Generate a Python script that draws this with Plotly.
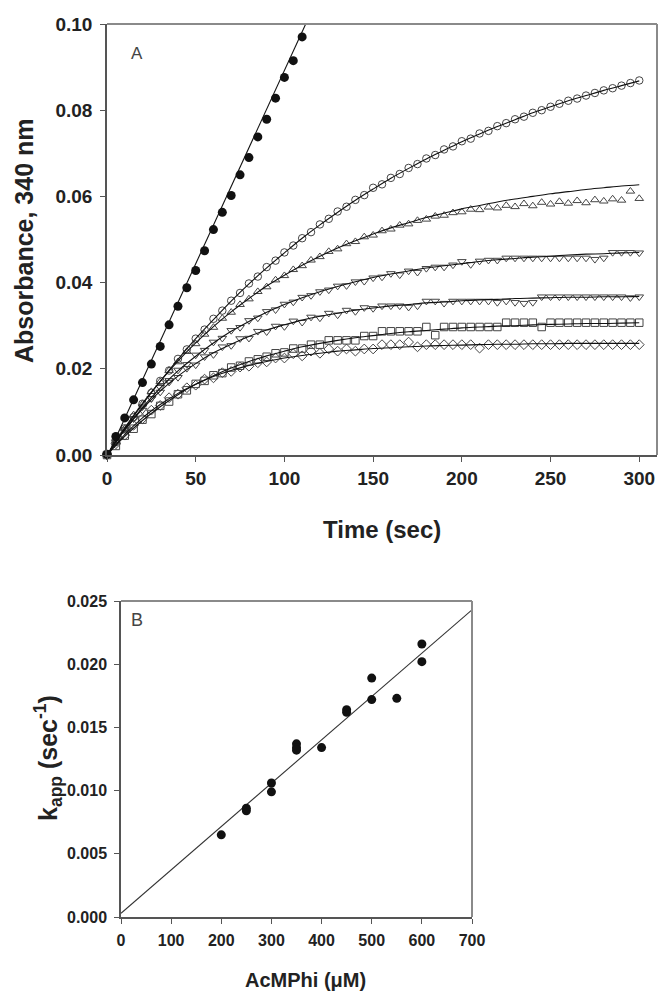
import plotly.graph_objects as go

# ---------------- Panel A data ----------------
time_s = [0, 5, 10, 15, 20, 25, 30, 35, 40, 45, 50, 55, 60, 65, 70, 75, 80, 85, 90, 95,
          100, 105, 110, 115, 120, 125, 130, 135, 140, 145, 150, 155, 160, 165, 170, 175,
          180, 185, 190, 195, 200, 205, 210, 215, 220, 225, 230, 235, 240, 245, 250, 255,
          260, 265, 270, 275, 280, 285, 290, 295, 300]
fit_time = [0, 10, 20, 30, 40, 50, 60, 70, 80, 90, 100, 110, 120, 130, 140, 150, 160, 170,
            180, 190, 200, 210, 220, 230, 240, 250, 260, 270, 280, 290, 300]

circles = [0.0000, 0.0030, 0.0062, 0.0088, 0.0119, 0.0144, 0.0172, 0.0196, 0.0223, 0.0245,
           0.0270, 0.0291, 0.0316, 0.0335, 0.0358, 0.0376, 0.0398, 0.0414, 0.0436, 0.0451,
           0.0470, 0.0486, 0.0503, 0.0517, 0.0535, 0.0548, 0.0565, 0.0576, 0.0592, 0.0603,
           0.0620, 0.0628, 0.0643, 0.0652, 0.0666, 0.0675, 0.0688, 0.0696, 0.0709, 0.0716,
           0.0728, 0.0734, 0.0746, 0.0752, 0.0763, 0.0770, 0.0779, 0.0785, 0.0794, 0.0800,
           0.0808, 0.0815, 0.0822, 0.0827, 0.0834, 0.0840, 0.0846, 0.0851, 0.0857, 0.0863,
           0.0869]
circles_fit = [0.0000, 0.0061, 0.0118, 0.0171, 0.0222, 0.0270, 0.0314, 0.0357, 0.0397, 0.0434,
               0.0469, 0.0503, 0.0534, 0.0563, 0.0591, 0.0617, 0.0642, 0.0665, 0.0687, 0.0707,
               0.0727, 0.0745, 0.0762, 0.0778, 0.0794, 0.0808, 0.0822, 0.0834, 0.0846, 0.0857,
               0.0868]

tri_up = [0.0000, 0.0033, 0.0061, 0.0093, 0.0118, 0.0147, 0.0170, 0.0196, 0.0216, 0.0240,
          0.0258, 0.0280, 0.0296, 0.0317, 0.0331, 0.0349, 0.0362, 0.0379, 0.0390, 0.0406,
          0.0416, 0.0430, 0.0439, 0.0452, 0.0460, 0.0472, 0.0478, 0.0490, 0.0495, 0.0506,
          0.0510, 0.0520, 0.0524, 0.0533, 0.0536, 0.0544, 0.0547, 0.0554, 0.0556, 0.0562,
          0.0564, 0.0570, 0.0569, 0.0575, 0.0573, 0.0579, 0.0576, 0.0583, 0.0578, 0.0586,
          0.0582, 0.0588, 0.0584, 0.0590, 0.0585, 0.0592, 0.0589, 0.0594, 0.0591, 0.0612,
          0.0595]
tri_up_fit = [0.0000, 0.0063, 0.0120, 0.0171, 0.0218, 0.0260, 0.0298, 0.0332, 0.0363, 0.0392,
              0.0417, 0.0440, 0.0461, 0.0480, 0.0497, 0.0513, 0.0527, 0.0539, 0.0551, 0.0561,
              0.0571, 0.0579, 0.0587, 0.0594, 0.0600, 0.0606, 0.0611, 0.0616, 0.0620, 0.0624,
              0.0627]

tri_down_a = [0.0000, 0.0029, 0.0060, 0.0084, 0.0112, 0.0131, 0.0157, 0.0173, 0.0197, 0.0210,
              0.0232, 0.0243, 0.0262, 0.0271, 0.0289, 0.0296, 0.0312, 0.0318, 0.0333, 0.0337,
              0.0350, 0.0355, 0.0366, 0.0370, 0.0379, 0.0383, 0.0392, 0.0393, 0.0402, 0.0403,
              0.0411, 0.0413, 0.0421, 0.0418, 0.0427, 0.0424, 0.0433, 0.0436, 0.0436, 0.0441,
              0.0449, 0.0442, 0.0450, 0.0452, 0.0452, 0.0457, 0.0457, 0.0457, 0.0457, 0.0457,
              0.0457, 0.0457, 0.0457, 0.0457, 0.0457, 0.0454, 0.0457, 0.0470, 0.0470, 0.0470,
              0.0469]
tri_down_a_fit = [0.0000, 0.0059, 0.0110, 0.0155, 0.0195, 0.0229, 0.0260, 0.0287, 0.0310, 0.0331,
                  0.0349, 0.0365, 0.0379, 0.0391, 0.0402, 0.0412, 0.0420, 0.0427, 0.0434, 0.0439,
                  0.0444, 0.0449, 0.0453, 0.0456, 0.0459, 0.0461, 0.0464, 0.0466, 0.0467, 0.0469,
                  0.0470]

tri_down_b = [0.0000, 0.0031, 0.0056, 0.0085, 0.0104, 0.0131, 0.0146, 0.0169, 0.0180, 0.0201,
              0.0209, 0.0228, 0.0233, 0.0251, 0.0254, 0.0270, 0.0271, 0.0287, 0.0286, 0.0299,
              0.0298, 0.0311, 0.0308, 0.0320, 0.0318, 0.0329, 0.0325, 0.0336, 0.0333, 0.0342,
              0.0340, 0.0346, 0.0346, 0.0346, 0.0343, 0.0346, 0.0357, 0.0357, 0.0352, 0.0357,
              0.0357, 0.0357, 0.0357, 0.0357, 0.0354, 0.0357, 0.0354, 0.0352, 0.0354, 0.0367,
              0.0367, 0.0367, 0.0367, 0.0367, 0.0367, 0.0367, 0.0367, 0.0367, 0.0367, 0.0365,
              0.0367]
tri_down_b_fit = [0.0000, 0.0058, 0.0107, 0.0148, 0.0183, 0.0212, 0.0237, 0.0257, 0.0275, 0.0290,
                  0.0302, 0.0313, 0.0322, 0.0329, 0.0336, 0.0341, 0.0346, 0.0349, 0.0353, 0.0355,
                  0.0358, 0.0360, 0.0361, 0.0363, 0.0364, 0.0365, 0.0366, 0.0366, 0.0367, 0.0367,
                  0.0368]

squares = [0.0000, 0.0021, 0.0045, 0.0061, 0.0082, 0.0095, 0.0114, 0.0124, 0.0141, 0.0150,
           0.0165, 0.0172, 0.0185, 0.0190, 0.0203, 0.0207, 0.0217, 0.0222, 0.0228, 0.0236,
           0.0238, 0.0247, 0.0247, 0.0256, 0.0256, 0.0266, 0.0266, 0.0266, 0.0266, 0.0276,
           0.0276, 0.0287, 0.0287, 0.0287, 0.0287, 0.0287, 0.0297, 0.0278, 0.0297, 0.0297,
           0.0297, 0.0297, 0.0297, 0.0297, 0.0297, 0.0307, 0.0307, 0.0307, 0.0307, 0.0297,
           0.0307, 0.0307, 0.0307, 0.0307, 0.0307, 0.0307, 0.0307, 0.0307, 0.0307, 0.0307,
           0.0307]
squares_fit = [0.0000, 0.0043, 0.0080, 0.0112, 0.0140, 0.0164, 0.0184, 0.0202, 0.0217, 0.0230,
               0.0241, 0.0251, 0.0259, 0.0266, 0.0272, 0.0277, 0.0282, 0.0286, 0.0289, 0.0292,
               0.0295, 0.0297, 0.0299, 0.0300, 0.0302, 0.0303, 0.0304, 0.0305, 0.0305, 0.0306,
               0.0307]

diamonds = [0.0000, 0.0026, 0.0046, 0.0069, 0.0084, 0.0104, 0.0115, 0.0133, 0.0141, 0.0156,
            0.0162, 0.0176, 0.0179, 0.0191, 0.0194, 0.0204, 0.0206, 0.0214, 0.0216, 0.0225,
            0.0225, 0.0235, 0.0230, 0.0241, 0.0236, 0.0246, 0.0241, 0.0246, 0.0241, 0.0246,
            0.0246, 0.0256, 0.0256, 0.0256, 0.0262, 0.0251, 0.0256, 0.0256, 0.0256, 0.0256,
            0.0256, 0.0256, 0.0248, 0.0256, 0.0256, 0.0256, 0.0256, 0.0256, 0.0256, 0.0256,
            0.0256, 0.0256, 0.0256, 0.0256, 0.0256, 0.0256, 0.0256, 0.0256, 0.0256, 0.0256,
            0.0256]
diamonds_fit = [0.0000, 0.0047, 0.0086, 0.0117, 0.0143, 0.0164, 0.0182, 0.0196, 0.0208, 0.0217,
                0.0225, 0.0231, 0.0236, 0.0241, 0.0244, 0.0247, 0.0249, 0.0251, 0.0253, 0.0254,
                0.0255, 0.0256, 0.0257, 0.0257, 0.0258, 0.0258, 0.0259, 0.0259, 0.0259, 0.0259,
                0.0259]

lin_time = [0, 5, 10, 15, 20, 25, 30, 35, 40, 45, 50, 55, 60, 65, 70, 75, 80, 85, 90, 95,
            100, 105, 110]
lin_abs = [0.0002, 0.0043, 0.0086, 0.0128, 0.0168, 0.0211, 0.0252, 0.0302, 0.0345, 0.0388,
           0.0428, 0.0474, 0.0523, 0.0563, 0.0602, 0.0650, 0.0690, 0.0738, 0.0779, 0.0828,
           0.0876, 0.0915, 0.0970]
lin_fit_time = [0, 112]
lin_fit_abs = [-0.0005, 0.1000]

# ---------------- Panel B data ----------------
acmphi_uM = [200, 250, 250, 300, 300, 350, 350, 350, 400, 450, 450, 500, 500, 550, 600, 600]
kapp = [0.0065, 0.0084, 0.0086, 0.0106, 0.0099, 0.0137, 0.0134, 0.0132, 0.0134, 0.0164,
        0.0162, 0.0189, 0.0172, 0.0173, 0.0216, 0.0202]
kfit_x = [0, 700]
kfit_y = [0.0003, 0.0243]

W, H = 666, 996
INK = "#222222"
AX = "#555555"
FRAME = "#8a8a8a"
FONT = "Liberation Sans"

# plot-area boxes in pixels (left, right, top, bottom)
BOX_A = (99, 649, 16, 447)
BOX_B = (113, 464, 593, 909)

fig = go.Figure()

open_series = [
    (circles, circles_fit, "circle-open"),
    (tri_up, tri_up_fit, "triangle-up-open"),
    (tri_down_a, tri_down_a_fit, "triangle-down-open"),
    (tri_down_b, tri_down_b_fit, "triangle-down-open"),
    (squares, squares_fit, "square-open"),
    (diamonds, diamonds_fit, "diamond-open"),
]
for data, fit, sym in open_series:
    fig.add_trace(go.Scatter(x=time_s, y=data, mode="markers", cliponaxis=False,
                             marker=dict(symbol=sym, size=7.5, color="#444444",
                                         line=dict(width=1, color="#444444")),
                             xaxis="x", yaxis="y", showlegend=False))
for data, fit, sym in open_series:
    fig.add_trace(go.Scatter(x=fit_time, y=fit, mode="lines",
                             line=dict(color="#111111", width=1.1, shape="spline"),
                             xaxis="x", yaxis="y", showlegend=False))

fig.add_trace(go.Scatter(x=lin_fit_time, y=lin_fit_abs, mode="lines",
                         line=dict(color="#111111", width=1.1),
                         xaxis="x", yaxis="y", showlegend=False))
fig.add_trace(go.Scatter(x=lin_time, y=lin_abs, mode="markers", cliponaxis=False,
                         marker=dict(symbol="circle", size=9, color="#111111"),
                         xaxis="x", yaxis="y", showlegend=False))

# Panel B
fig.add_trace(go.Scatter(x=kfit_x, y=kfit_y, mode="lines",
                         line=dict(color="#333333", width=1.1),
                         xaxis="x2", yaxis="y2", showlegend=False))
fig.add_trace(go.Scatter(x=acmphi_uM, y=kapp, mode="markers",
                         marker=dict(symbol="circle", size=9, color="#111111"),
                         xaxis="x2", yaxis="y2", showlegend=False))


def ax_common(size):
    return dict(showgrid=False, zeroline=False, showline=True, mirror=False,
                automargin=False,
                linecolor=AX, linewidth=1.5, ticks="outside", ticklen=5, tickwidth=1,
                tickcolor=AX,
                tickfont=dict(family=FONT, size=size, color=INK, weight="bold"))


fig.update_layout(
    width=W, height=H, margin=dict(l=0, r=0, t=0, b=0, autoexpand=False),
    paper_bgcolor="white", plot_bgcolor="white", showlegend=False,
    xaxis=dict(domain=[BOX_A[0] / W, BOX_A[1] / W], range=[0, 310], anchor="y",
               tickvals=[0, 50, 100, 150, 200, 250, 300], ticklabelstandoff=0,
               **ax_common(19)),
    yaxis=dict(domain=[1 - BOX_A[3] / H, 1 - BOX_A[2] / H], range=[0, 0.1], anchor="x",
               tickvals=[0, 0.02, 0.04, 0.06, 0.08, 0.10], tickformat=".2f",
               ticklabelstandoff=4, **ax_common(19)),
    xaxis2=dict(domain=[BOX_B[0] / W, BOX_B[1] / W], range=[0, 700], anchor="y2",
                tickvals=[0, 100, 200, 300, 400, 500, 600, 700], ticklabelstandoff=3,
                **ax_common(16)),
    yaxis2=dict(domain=[1 - BOX_B[3] / H, 1 - BOX_B[2] / H], range=[0, 0.025], anchor="x2",
                tickvals=[0, 0.005, 0.010, 0.015, 0.020, 0.025], tickformat=".3f",
                ticklabelstandoff=4, **ax_common(16)),
)

# lighter top and right frame lines
for (l, r, t, b) in (BOX_A, BOX_B):
    fig.add_shape(type="line", xref="paper", yref="paper",
                  x0=l / W, x1=r / W, y0=1 - t / H, y1=1 - t / H,
                  line=dict(color=FRAME, width=2))
    fig.add_shape(type="line", xref="paper", yref="paper",
                  x0=r / W, x1=r / W, y0=1 - t / H, y1=1 - b / H,
                  line=dict(color=FRAME, width=2))


def ann(text, px, py, size, bold=True, angle=0, color=INK):
    fig.add_annotation(text=text, x=px / W, y=1 - py / H, xref="paper", yref="paper",
                       xanchor="center", yanchor="middle", showarrow=False,
                       textangle=angle,
                       font=dict(family=FONT, size=size, color=color,
                                 weight="bold" if bold else "normal"))


ann("Absorbance, 340 nm", 16, 233, 25, angle=-90)
ann("Time (sec)", 374, 521, 24)
ann("A", 129, 45, 17, bold=False, color="#444444")

ann("k<sub>app</sub> (sec<sup>-1</sup>)", 40, 750, 25, angle=-90)
ann("AcMPhi (μM)", 297, 972, 20)
ann("B", 129, 612, 18, bold=False, color="#444444")

fig.write_html("out.html")
